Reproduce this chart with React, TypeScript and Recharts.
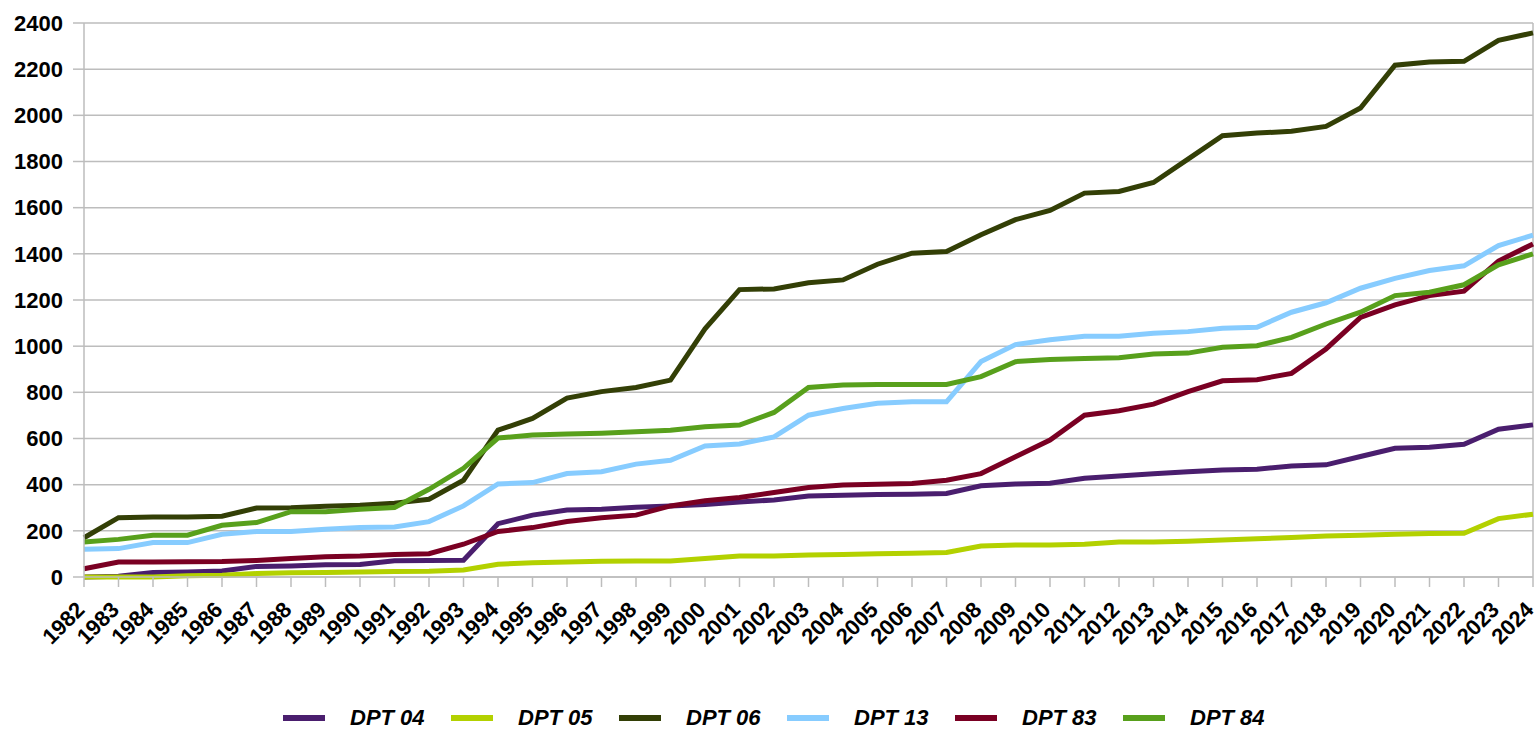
import { LineChart, Line, XAxis, YAxis, CartesianGrid, Legend, ReferenceLine } from 'recharts'

const years = [
  '1982', '1983', '1984', '1985', '1986', '1987', '1988', '1989', '1990', '1991', '1992',
  '1993', '1994', '1995', '1996', '1997', '1998', '1999', '2000', '2001', '2002', '2003',
  '2004', '2005', '2006', '2007', '2008', '2009', '2010', '2011', '2012', '2013', '2014',
  '2015', '2016', '2017', '2018', '2019', '2020', '2021', '2022', '2023', '2024',
]

const dpt04 = [
  0, 3, 19, 22, 26, 46, 48, 53, 54, 70, 71, 73, 231, 268, 290, 294, 302, 308, 314, 325, 334,
  351, 354, 357, 359, 362, 395, 403, 406, 428, 438, 447, 456, 464, 467, 481, 486, 522, 558,
  562, 575, 640, 659,
]
const dpt05 = [
  0, 0, 0, 5, 8, 15, 18, 20, 22, 24, 25, 30, 55, 62, 65, 68, 69, 69, 80, 91, 91, 95, 98, 101,
  103, 106, 134, 139, 139, 142, 152, 152, 155, 160, 166, 171, 178, 181, 185, 188, 189, 253, 272,
]
const dpt06 = [
  170, 257, 260, 260, 263, 299, 300, 307, 311, 320, 337, 419, 636, 687, 775, 803, 821, 853,
  1075, 1245, 1248, 1275, 1287, 1355, 1403, 1410, 1483, 1548, 1588, 1663, 1670, 1709, 1810,
  1912, 1923, 1931, 1952, 2032, 2217, 2231, 2234, 2325, 2357,
]
const dpt13 = [
  120, 123, 149, 149, 185, 197, 197, 207, 214, 217, 240, 308, 403, 409, 448, 456, 489, 506,
  568, 576, 607, 701, 730, 753, 759, 759, 933, 1007, 1028, 1043, 1043, 1056, 1063, 1078, 1082,
  1147, 1188, 1251, 1294, 1328, 1348, 1436, 1481,
]
const dpt83 = [
  36, 65, 65, 66, 67, 72, 80, 88, 91, 98, 101, 142, 197, 214, 240, 257, 268, 308, 330, 344,
  366, 388, 399, 402, 405, 419, 448, 521, 593, 701, 720, 749, 803, 850, 855, 882, 988, 1125,
  1179, 1219, 1238, 1369, 1443,
]
const dpt84 = [
  152, 163, 181, 181, 224, 236, 283, 283, 294, 301, 380, 471, 602, 615, 619, 623, 629, 636,
  651, 658, 713, 821, 832, 834, 834, 834, 868, 933, 942, 947, 950, 966, 970, 995, 1002, 1038,
  1096, 1147, 1219, 1234, 1266, 1352, 1400,
]
const yTicks = [0, 200, 400, 600, 800, 1000, 1200, 1400, 1600, 1800, 2000, 2200, 2400]

const series = [
  { key: 'DPT 04', values: dpt04, color: '#4a1e6e' },
  { key: 'DPT 05', values: dpt05, color: '#b3d100' },
  { key: 'DPT 06', values: dpt06, color: '#333f06' },
  { key: 'DPT 13', values: dpt13, color: '#87ccff' },
  { key: 'DPT 83', values: dpt83, color: '#7a0023' },
  { key: 'DPT 84', values: dpt84, color: '#58a01c' },
]

const data = years.map((year, i) => {
  const row: Record<string, string | number> = { year }
  series.forEach((s) => {
    row[s.key] = s.values[i]
  })
  return row
})

const FONT = '"Liberation Sans", Arial, sans-serif'
const GRID = '#bdbdbd'

// rotated year labels, anchored at their end just below the tick
const YearTick = (props: any) => {
  const { x, y, payload } = props
  const ax = x + 2
  const ay = y + 22
  return (
    <text
      x={ax}
      y={ay}
      transform={`rotate(-45 ${ax} ${ay})`}
      textAnchor="end"
      fontFamily={FONT}
      fontWeight="bold"
      fontSize={22}
      fill="#000"
    >
      {payload.value}
    </text>
  )
}

const LegendContent = () => (
  <div
    style={{
      display: 'flex',
      paddingLeft: 283,
      height: 22,
      alignItems: 'center',
      fontFamily: FONT,
      fontWeight: 'bold',
      fontStyle: 'italic',
      fontSize: 22,
    }}
  >
    {series.map((s) => (
      <div key={s.key} style={{ display: 'flex', alignItems: 'center', width: 168 }}>
        <div style={{ width: 42, height: 6, background: s.color, marginRight: 25 }} />
        <span>{s.key}</span>
      </div>
    ))}
  </div>
)

export default function App() {
  return (
    <div style={{ position: 'absolute', left: 0, top: 0, width: 1540, height: 729, background: '#fff' }}>
      <LineChart
        width={1540}
        height={729}
        data={data}
        margin={{ top: 23, right: 7, left: 0, bottom: 0 }}
      >
        <CartesianGrid horizontal vertical={false} stroke={GRID} strokeWidth={1.5} />
        <XAxis
          dataKey="year"
          interval={0}
          height={130}
          tickSize={10}
          tickMargin={2}
          stroke={GRID}
          strokeWidth={1.5}
          tick={<YearTick />}
        />
        <YAxis
          domain={[0, 2400]}
          ticks={yTicks}
          width={84}
          tickSize={11}
          tickMargin={10}
          stroke={GRID}
          strokeWidth={1.5}
          tick={{ fill: '#000', fontSize: 22, fontWeight: 'bold', fontFamily: FONT }}
        />
        <ReferenceLine x="2024" stroke={GRID} strokeWidth={1.5} />
        {series.map((s) => (
          <Line
            key={s.key}
            type="linear"
            dataKey={s.key}
            stroke={s.color}
            strokeWidth={5}
            dot={false}
            isAnimationActive={false}
          />
        ))}
        <Legend
          verticalAlign="bottom"
          content={<LegendContent />}
          wrapperStyle={{ left: 0, width: 1540, bottom: 0 }}
        />
      </LineChart>
    </div>
  )
}
